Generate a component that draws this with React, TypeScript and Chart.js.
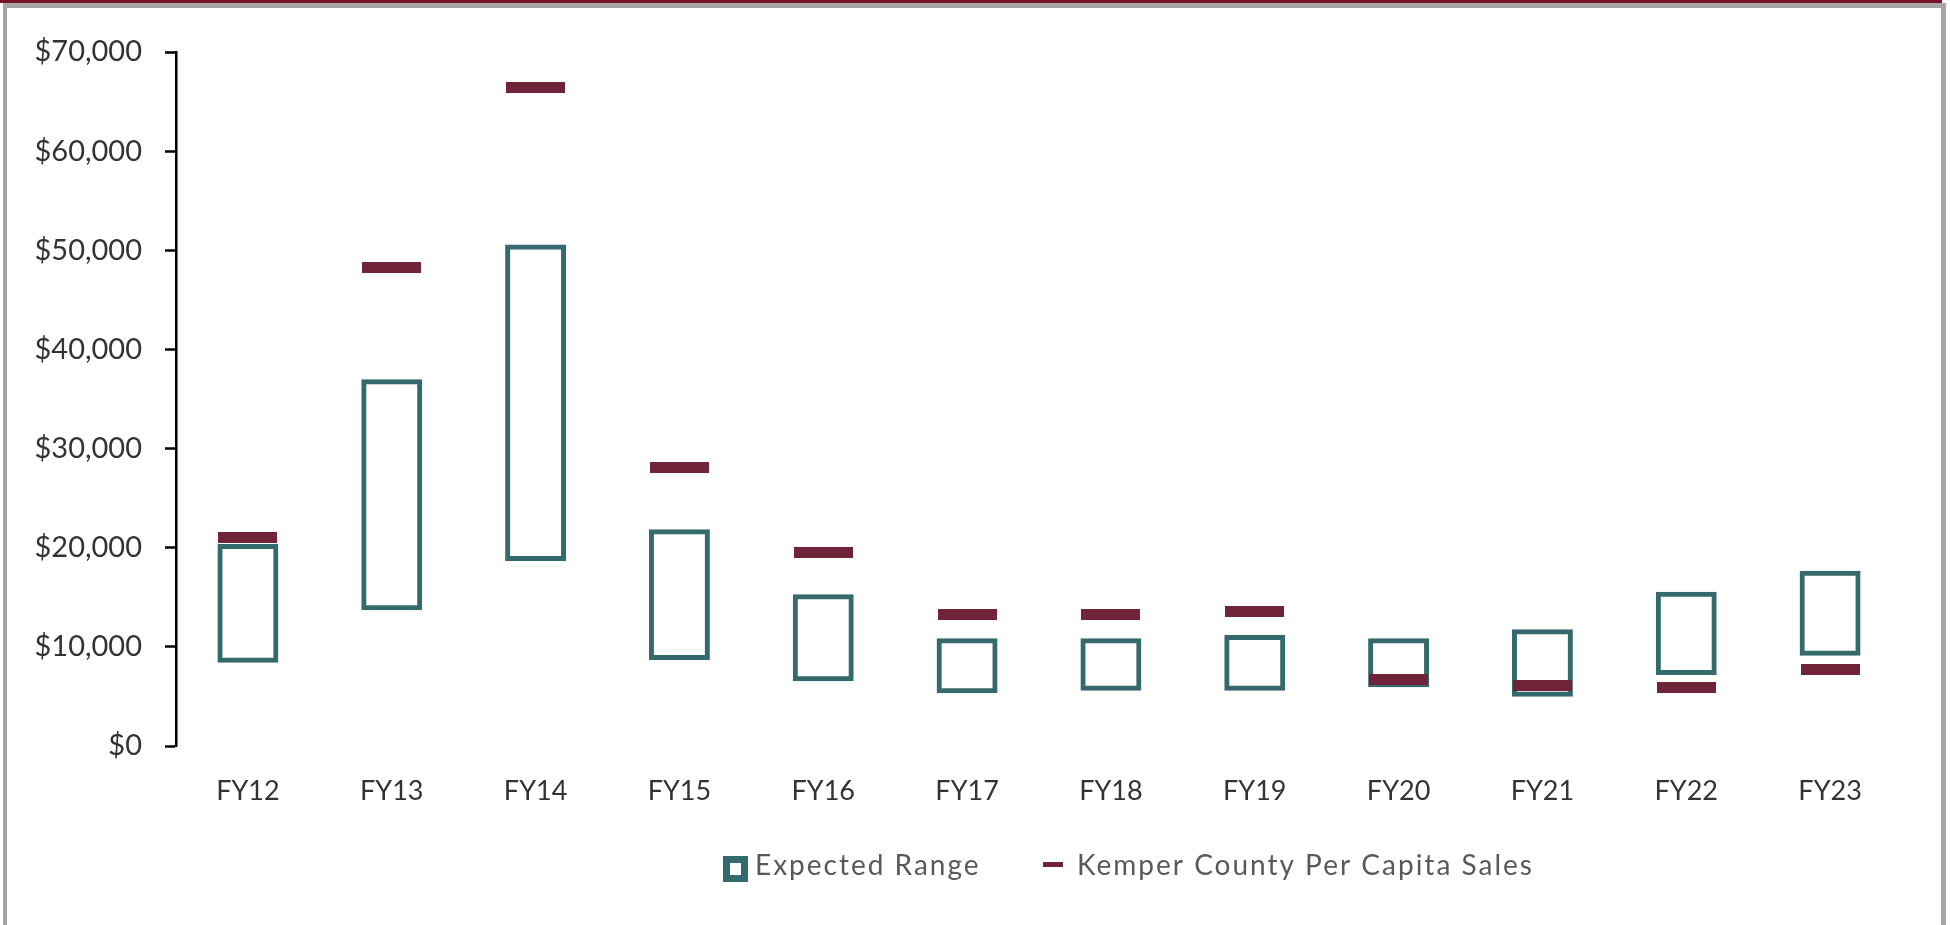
import React, { useEffect, useRef } from 'react';
import { Chart, registerables } from 'chart.js';

Chart.register(...registerables);

const categories = ['FY12', 'FY13', 'FY14', 'FY15', 'FY16', 'FY17', 'FY18', 'FY19', 'FY20', 'FY21', 'FY22', 'FY23'];
const rangeLow = [8650, 13950, 18910, 8930, 6780, 5570, 5830, 5830, 6170, 5220, 7410, 9360];
const rangeHigh = [20120, 36750, 50340, 21600, 15050, 10610, 10610, 10940, 10610, 11520, 15310, 17430];
const perCapitaSales = [21000, 48230, 66370, 28110, 19470, 13250, 13300, 13590, 6690, 6150, 5870, 7670];
const seriesNames = ['Expected Range', 'Kemper County Per Capita Sales'];
const yMin = 0;
const yMax = 70000;
const yStep = 10000;

const TEAL = '#356a6c';
const MAROON = '#70243a';
const AXIS_TEXT = '#333333';
const LEGEND_TEXT = '#595959';
const FONT = 'Lato';

const legendPlugin = {
  id: 'rangeLegend',
  afterDraw(chart: any) {
    const ctx = chart.ctx as CanvasRenderingContext2D;
    const area = chart.chartArea;
    const ds = chart.data.datasets;
    const rangeDs = ds.find((d: any) => d.type === 'bar');
    const saleDs = ds.find((d: any) => d.type === 'line');
    const cy = area.bottom + 123;
    const baseY = area.bottom + 129;
    ctx.save();
    // range swatch
    const sx = area.left + 547;
    ctx.strokeStyle = rangeDs.borderColor;
    ctx.lineWidth = 7;
    ctx.strokeRect(sx + 3.5, cy - 13 + 3.5, 18, 19);
    ctx.font = `28px ${FONT}`;
    (ctx as any).letterSpacing = '2px';
    ctx.fillStyle = LEGEND_TEXT;
    ctx.textBaseline = 'alphabetic';
    ctx.textAlign = 'left';
    ctx.fillText(rangeDs.label, area.left + 579, baseY);
    // sales swatch
    ctx.fillStyle = MAROON;
    ctx.fillRect(area.left + 867, cy - 7, 20, 5);
    ctx.fillStyle = LEGEND_TEXT;
    ctx.fillText(saleDs.label, area.left + 901, baseY);
    ctx.restore();
  },
};

export default function App() {
  const ref = useRef<HTMLCanvasElement>(null);

  useEffect(() => {
    document.body.style.margin = '0';
    document.documentElement.style.overflow = 'hidden';
    const marker = document.createElement('canvas');
    marker.width = 59;
    marker.height = 11;
    const mctx = marker.getContext('2d')!;
    mctx.fillStyle = MAROON;
    mctx.fillRect(0, 0, 59, 11);

    const xFont = { family: FONT, size: 27 };
    const yFont = { family: FONT, size: 29 };
    const chart = new Chart(ref.current!, {
      type: 'bar',
      data: {
        labels: categories,
        datasets: [
          {
            type: 'line',
            label: seriesNames[1],
            data: perCapitaSales,
            showLine: false,
            pointStyle: marker as any,
            pointRadius: 6,
            order: 0,
          } as any,
          {
            type: 'bar',
            label: seriesNames[0],
            data: categories.map((_, i) => [rangeLow[i], rangeHigh[i]]),
            backgroundColor: 'rgba(0,0,0,0)',
            borderColor: TEAL,
            borderWidth: 0.01,
            borderSkipped: false,
            inflateAmount: 2.5,
            barPercentage: 0.389,
            categoryPercentage: 1,
            order: 1,
          } as any,
        ],
      },
      options: {
        responsive: false,
        animation: false,
        devicePixelRatio: 1,
        events: [],
        layout: { padding: { top: 52, right: 48, left: 0, bottom: 0 } },
        plugins: { legend: { display: false }, tooltip: { enabled: false } },
        scales: {
          x: {
            grid: { display: false },
            border: { display: false },
            ticks: { font: xFont, color: AXIS_TEXT, padding: 21 },
            afterFit: (s: any) => { s.height = 179; },
          },
          y: {
            min: yMin,
            max: yMax,
            ticks: {
              stepSize: yStep,
              font: yFont,
              color: AXIS_TEXT,
              padding: 23,
              callback: (v: any) => '$' + Number(v).toLocaleString('en-US'),
            },
            grid: { drawOnChartArea: false, drawTicks: true, tickLength: 11, tickColor: '#000', tickWidth: 2.5 },
            border: { display: true, color: '#000', width: 2.5 },
            afterFit: (s: any) => { s.width = 176; },
          },
        },
      } as any,
      plugins: [legendPlugin],
    });
    return () => chart.destroy();
  }, []);

  return (
    <div style={{ position: 'absolute', left: 0, top: 0, width: 1950, height: 925, overflow: 'hidden', background: '#fff' }}>
      <canvas ref={ref} width={1950} height={925} style={{ position: 'absolute', left: 0, top: 0, width: 1950, height: 925 }} />
      <div style={{ position: 'absolute', left: 0, top: 0, width: 1942, height: 3, background: '#7a1428' }} />
      <div style={{ position: 'absolute', left: 3, top: 3, width: 1943, height: 5, background: '#a6a6a6' }} />
      <div style={{ position: 'absolute', left: 3, top: 3, width: 4, height: 922, background: '#a6a6a6' }} />
      <div style={{ position: 'absolute', left: 1941, top: 3, width: 5, height: 922, background: '#a6a6a6' }} />
    </div>
  );
}
